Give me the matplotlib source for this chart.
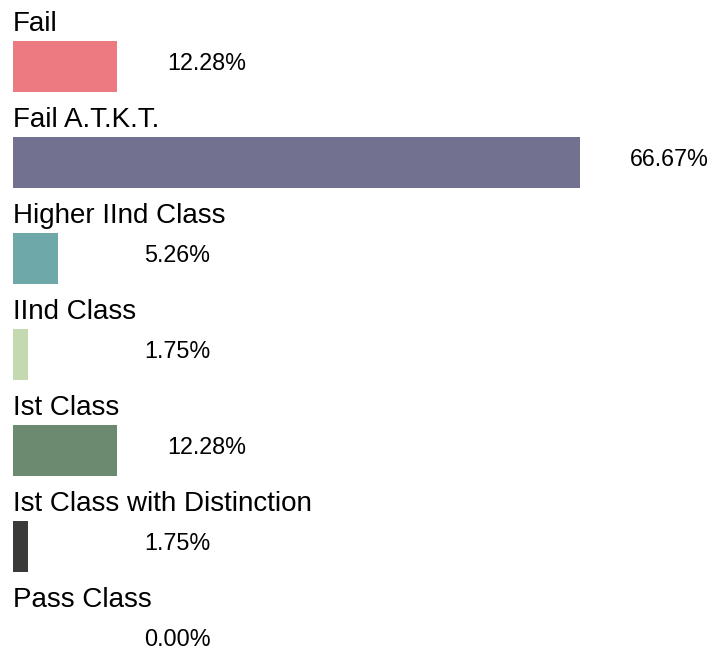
import matplotlib.pyplot as plt

categories = ['Fail', 'Fail A.T.K.T.', 'Higher IInd Class', 'IInd Class',
              'Ist Class', 'Ist Class with Distinction', 'Pass Class']
values = [12.28, 66.67, 5.26, 1.75, 12.28, 1.75, 0.00]
colors = ['#ec7a80', '#727190', '#6fa8a8', '#c5d9b0', '#6c8a6f', '#3a3a38', '#cccccc']

plt.rcParams['font.family'] = ['Liberation Sans', 'DejaVu Sans']

fig = plt.figure(figsize=(7.11, 6.51), dpi=100)
ax = fig.add_axes([0, 0, 1, 1])

px = 8.5      # pixels per percent
row = 96.0    # pixels per row
ax.set_xlim(-13 / px, (711 - 13) / px)
ax.set_ylim((651 - 66) / row, -66 / row)

y = list(range(len(categories)))
ax.barh(y, values, height=51 / row, color=colors)

for i, (cat, v) in enumerate(zip(categories, values)):
    ax.text(0, i - 35 / row, cat, fontsize=20, va='baseline', ha='left')
    ax.text(max(v, 9.5) + 5.9, i - 2 / row, '{:.2f}%'.format(v), fontsize=16.8,
            va='center', ha='left')

ax.axis('off')
fig.savefig('out.png', dpi=100)
